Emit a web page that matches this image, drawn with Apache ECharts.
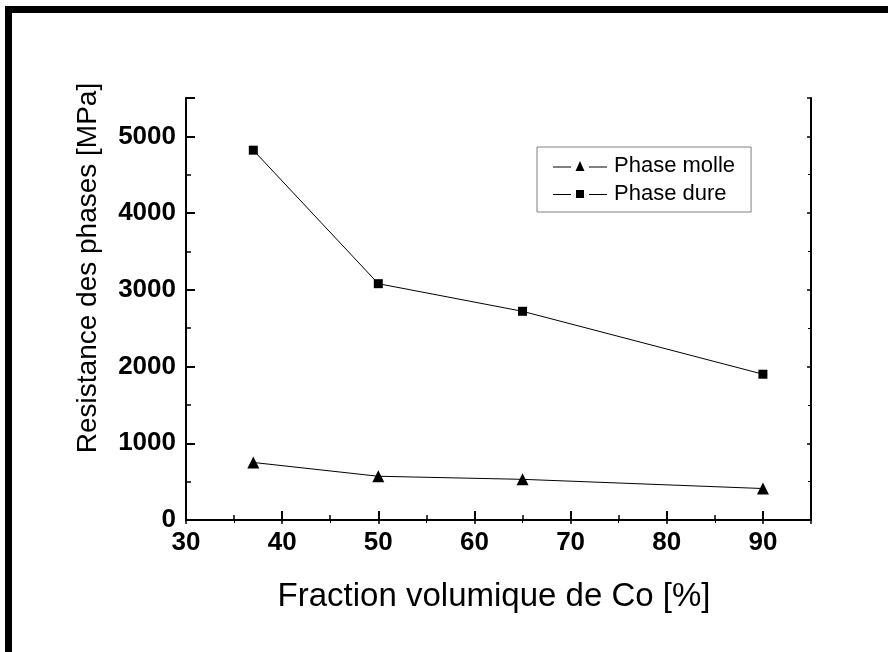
<!DOCTYPE html>
<html>
<head>
<meta charset="utf-8">
<script src="https://cdn.jsdelivr.net/npm/echarts@6/dist/echarts.min.js"></script>
<style>
  html, body { margin: 0; padding: 0; background: #fff; }
  #chart { width: 888px; height: 652px; }
</style>
</head>
<body>
<div id="chart"></div>
<script>
// Co volume fraction (%) at which the phase strengths were evaluated
const fractionCo = [37, 50, 65, 90];
// Strength of the soft phase (MPa)
const phaseMolle = [750, 570, 530, 410];
// Strength of the hard phase (MPa)
const phaseDure = [4820, 3080, 2720, 1900];

const seriesNames = ['Phase molle', 'Phase dure'];
const xTitle = 'Fraction volumique de Co [%]';
const yTitle = 'Resistance des phases [MPa]';

const FONT = '"Liberation Sans", Arial, Helvetica, sans-serif';

const pairs = (xs, ys) => xs.map((x, i) => [x, ys[i]]);

// legend glyphs: dash - marker - dash
const iconTri = 'path://M0,5.5L18,5.5L18,6.5L0,6.5Z M36,5.5L54,5.5L54,6.5L36,6.5Z M22.5,10L27,0L31.5,10Z';
const iconSq = 'path://M0,4L18,4L18,5L0,5Z M36,4L54,4L54,5L36,5Z M23,0L31,0L31,8L23,8Z';

const axisLine = { show: true, lineStyle: { color: '#000', width: 2 } };

const chart = echarts.init(document.getElementById('chart'));
chart.setOption({
  animation: false,
  backgroundColor: '#fff',
  grid: { left: 186, top: 98, right: 77, bottom: 132, containLabel: false },
  xAxis: [
    {
      type: 'value', min: 30, max: 95, interval: 10,
      axisLine: axisLine,
      axisTick: { inside: true, length: 9, lineStyle: { color: '#000', width: 2 } },
      minorTick: { show: true, splitNumber: 2, length: 5, lineStyle: { color: '#000', width: 1.5 } },
      splitLine: { show: false },
      axisLabel: {
        margin: 10, color: '#000', fontFamily: FONT, fontWeight: 'bold', fontSize: 26,
        showMaxLabel: false,
        formatter: v => (v % 10 === 0 ? String(v) : '')
      }
    },
    {
      type: 'value', position: 'top', min: 30, max: 95, interval: 10,
      axisLine: axisLine,
      axisTick: { inside: true, length: 4, lineStyle: { color: '#000', width: 1.5 } },
      minorTick: { show: true, splitNumber: 2, length: 3, lineStyle: { color: '#000', width: 1 } },
      splitLine: { show: false },
      axisLabel: { show: false }
    }
  ],
  yAxis: [
    {
      type: 'value', min: 0, max: 5500, interval: 1000,
      axisLine: axisLine,
      axisTick: { inside: true, length: 9, lineStyle: { color: '#000', width: 2 } },
      minorTick: { show: true, splitNumber: 2, length: 5, lineStyle: { color: '#000', width: 1.5 } },
      splitLine: { show: false },
      axisLabel: {
        margin: 10, color: '#000', fontFamily: FONT, fontWeight: 'bold', fontSize: 26,
        showMaxLabel: false,
        formatter: v => (v % 1000 === 0 ? String(v) : '')
      }
    },
    {
      type: 'value', position: 'right', min: 0, max: 5500, interval: 1000,
      axisLine: axisLine,
      axisTick: { inside: true, length: 4, lineStyle: { color: '#000', width: 1.5 } },
      minorTick: { show: true, splitNumber: 2, length: 3, lineStyle: { color: '#000', width: 1 } },
      splitLine: { show: false },
      axisLabel: { show: false }
    }
  ],
  legend: {
    orient: 'vertical',
    left: 537, top: 147,
    padding: [8, 16, 7, 16],
    itemGap: 6,
    itemWidth: 54,
    itemHeight: 10,
    borderColor: '#808080', borderWidth: 1, borderRadius: 0,
    textStyle: { color: '#000', fontFamily: FONT, fontSize: 22, lineHeight: 22, padding: [0, 0, 0, 2] },
    data: [
      { name: seriesNames[0], icon: iconTri },
      { name: seriesNames[1], icon: iconSq }
    ]
  },
  series: [
    {
      name: seriesNames[0], type: 'line',
      data: pairs(fractionCo, phaseMolle),
      symbol: 'triangle', symbolSize: 12,
      itemStyle: { color: '#000' },
      lineStyle: { color: '#000', width: 1 }
    },
    {
      name: seriesNames[1], type: 'line',
      data: pairs(fractionCo, phaseDure),
      symbol: 'rect', symbolSize: 9,
      itemStyle: { color: '#000' },
      lineStyle: { color: '#000', width: 1 }
    }
  ],
  graphic: [
    // page frame (top and left edges)
    { type: 'rect', shape: { x: 5, y: 6, width: 883, height: 7 }, style: { fill: '#000' }, silent: true },
    { type: 'rect', shape: { x: 5, y: 6, width: 7, height: 646 }, style: { fill: '#000' }, silent: true },
    {
      type: 'text', x: 88, y: 268, rotation: Math.PI / 2,
      style: { text: yTitle, fill: '#000', font: '28px ' + FONT, textAlign: 'center', textVerticalAlign: 'middle' }
    },
    {
      type: 'text', x: 494, y: 597,
      style: { text: xTitle, fill: '#000', font: '33px ' + FONT, textAlign: 'center', textVerticalAlign: 'middle' }
    }
  ]
});
</script>
</body>
</html>
